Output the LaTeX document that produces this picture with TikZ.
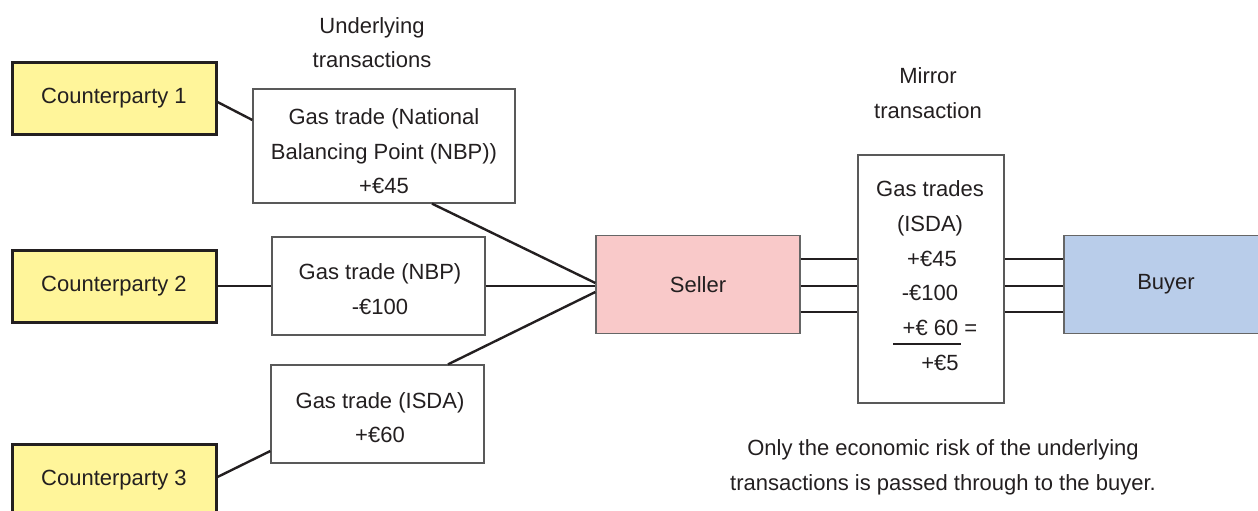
\documentclass[tikz,border=0pt]{standalone}
\usepackage{fontspec}
\setmainfont{Liberation Sans}
\definecolor{cpyellow}{HTML}{FFF59A}
\definecolor{sellerpink}{HTML}{F9C9C9}
\definecolor{buyerblue}{HTML}{B9CDEA}
\definecolor{ink}{HTML}{231F20}
\begin{document}
\begin{tikzpicture}[x=1pt,y=-1pt,
  every node/.style={text=ink, font=\fontsize{22}{34.5}\selectfont},
  cp/.style={draw=ink, line width=3pt, fill=cpyellow, minimum width=204pt, minimum height=72pt, inner sep=0pt},
  tbox/.style={draw=black!65, line width=1.3pt, fill=white, inner sep=0pt},
  party/.style={draw=black!60, line width=1.3pt, minimum width=204pt, minimum height=98pt, inner sep=0pt},
  txt/.style={align=center, inner sep=0pt},
  lbl/.style={inner sep=0pt, text height=16pt, text depth=1pt},
  link/.style={line width=2.4pt, draw=ink}]
\useasboundingbox (0,0) rectangle (1258,511);

% counterparties
\node[cp] (cp1) at (114,98.5) {Counterparty 1};
\node[cp] (cp2) at (114,286) {Counterparty 2};
\node[cp] (cp3) at (114,480) {Counterparty 3};

% underlying boxes
\node[tbox, minimum width=262pt, minimum height=114pt] (b1) at (384,146) {};
\node[txt] (b1t) at (384,151.5) {Gas trade (National\\Balancing Point (NBP))\\+€45};
\node[tbox, minimum width=213pt, minimum height=98pt] (b2) at (378.5,286) {};
\node[txt] (b2t) at (380,289) {Gas trade (NBP)\\-€100};
\node[tbox, minimum width=213pt, minimum height=98pt] (b3) at (377.5,414) {};
\node[txt] (b3t) at (380,417.5) {Gas trade (ISDA)\\+€60};

\node[txt] (ul) at (372,42.5) {Underlying\\transactions};

% seller, mirror, buyer
\node[party, fill=sellerpink] (seller) at (698,284.5) {Seller};
\node[tbox, minimum width=146pt, minimum height=248pt] (mirror) at (931,279) {};
\node[party, fill=buyerblue] (buyer) at (1166,284.5) {Buyer};

\node[txt] (mt) at (928,93) {Mirror\\transaction};

\node[lbl] (m1) at (930,189) {Gas trades};
\node[lbl] (m2) at (930,224) {(ISDA)};
\node[lbl] (m3) at (932,259) {+€45};
\node[lbl] (m4) at (930,293) {-€100};
\node[lbl] (m5) at (940,328) {+€ 60 =};
\node[lbl] (m6) at (940,363) {+€5};
\coordinate (r1) at (893,344);
\coordinate (r2) at (961,344);
\draw[line width=2.4pt, ink] (r1) -- (r2);

\node[txt] (note) at (943,467.5) {Only the economic risk of the underlying\\transactions is passed through to the buyer.};

% connectors
\draw[link] ([yshift=-3.5pt]cp1.east) -- ([yshift=26pt]b1.west);
\draw[link] (cp2.east) -- (b2.west);
\draw[link] ([yshift=3pt]cp3.east) -- ([yshift=-37pt]b3.west);
\draw[link] ([xshift=48pt]b1.south) -- ([yshift=1.5pt]seller.west);
\draw[link] (b2.east) -- ([yshift=-1.5pt]seller.west);
\draw[link] ([xshift=70.5pt]b3.north) -- ([yshift=-7.5pt]seller.west);

\foreach \dy in {25.5,-1.5,-27.5}{
  \draw[link] ([yshift=\dy pt]seller.east) -- ([yshift=\dy pt]seller.east -| mirror.west);
  \draw[link] ([yshift=\dy pt]seller.east -| mirror.east) -- ([yshift=\dy pt]seller.east -| buyer.west);
}
\end{tikzpicture}
\end{document}
